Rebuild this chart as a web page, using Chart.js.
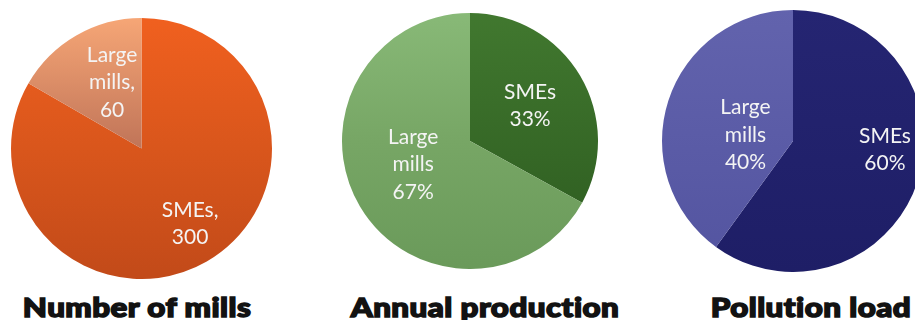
<!DOCTYPE html>
<html>
<head>
<meta charset="utf-8">
<script src="https://cdn.jsdelivr.net/npm/chart.js@4.4.1/dist/chart.umd.min.js"></script>
<style>
  html, body { margin: 0; padding: 0; background: #ffffff; }
  body { width: 915px; height: 320px; overflow: hidden; position: relative; }
  canvas { position: absolute; }
  #c1 { left: 11px; top: 18px; }
  #c2 { left: 342px; top: 13px; }
  #c3 { left: 662px; top: 10px; }
  .ttl {
    position: absolute; top: 291px; width: 320px; margin-left: -160px;
    text-align: center; font-family: "Lato", "Roboto", "Liberation Sans", sans-serif;
    font-weight: 900; font-size: 27px; line-height: 32px; color: #121212;
    -webkit-text-stroke: 1.5px #121212;
    letter-spacing: 0.4px;
    white-space: nowrap; transform: scaleX(1.16);
  }
</style>
</head>
<body>
<canvas id="c1" width="261" height="261"></canvas>
<canvas id="c2" width="256" height="256"></canvas>
<canvas id="c3" width="262" height="262"></canvas>
<div class="ttl" id="t1" style="left:137px">Number of mills</div>
<div class="ttl" id="t2" style="left:485px">Annual production</div>
<div class="ttl" id="t3" style="left:811px">Pollution load</div>
<script>
// Segments, in drawing order (clockwise from 12 o'clock)
const categories = ['SMEs', 'Large mills'];

// Number of mills
const millCounts = [300, 60];
// Share of annual production (%)
const productionShares = [33, 67];
// Share of pollution load (%)
const pollutionShares = [60, 40];

const chartTitles = ['Number of mills', 'Annual production', 'Pollution load'];

// Slice label text: first chart shows counts with a comma, the others percentages
function countLabel(cat, v) { return (cat + ',').split(' ').concat([String(v)]); }
function pctLabel(cat, v) { return cat.split(' ').concat([v + '%']); }

// Per-slice vertical gradient fill (top -> bottom of the pie)
function sliceGradients(stopsPerSlice) {
  return function (ctx) {
    const stops = stopsPerSlice[ctx.dataIndex] || stopsPerSlice[0];
    const chart = ctx.chart;
    const area = chart.chartArea;
    if (!area) return stops[0][1];
    const g = chart.ctx.createLinearGradient(0, area.top, 0, area.bottom);
    stops.forEach(s => g.addColorStop(s[0], s[1]));
    return g;
  };
}

// Places each slice label at an angle (deg clockwise from top) and radius fraction
const sliceLabels = {
  id: 'sliceLabels',
  afterDatasetsDraw(chart, args, opts) {
    const meta = chart.getDatasetMeta(0);
    const ctx = chart.ctx;
    const data = chart.data.datasets[0].data;
    ctx.save();
    ctx.fillStyle = opts.color;
    ctx.font = opts.font;
    ctx.textAlign = 'center';
    ctx.textBaseline = 'alphabetic';
    meta.data.forEach((arc, i) => {
      const pos = opts.positions[i];
      const a = (pos[0] - 90) * Math.PI / 180;
      const r = arc.outerRadius * pos[1];
      const cx = arc.x + Math.cos(a) * r;
      const cy = arc.y + Math.sin(a) * r;
      const lines = opts.format(chart.data.labels[i], data[i]);
      const lh = opts.lineHeight, cap = opts.capHeight;
      const y0 = cy + cap / 2 - (lines.length - 1) * lh / 2;
      lines.forEach((t, k) => ctx.fillText(t, cx, y0 + k * lh));
    });
    ctx.restore();
  }
};

function makePie(id, values, stops, format, positions) {
  return new Chart(document.getElementById(id), {
    type: 'pie',
    data: {
      labels: categories,
      datasets: [{
        data: values,
        backgroundColor: sliceGradients(stops),
        borderWidth: 0,
        hoverOffset: 0,
        offset: 0
      }]
    },
    options: {
      responsive: false,
      animation: false,
      rotation: 0,
      layout: { padding: 0 },
      events: [],
      plugins: {
        legend: { display: false },
        tooltip: { enabled: false },
        title: { display: false },
        sliceLabels: {
          color: '#f4f4f4',
          font: '21px "Lato", "Open Sans", sans-serif',
          lineHeight: 27.5,
          capHeight: 14,
          format: format,
          positions: positions
        }
      }
    },
    plugins: [sliceLabels]
  });
}

makePie('c1', millCounts, [
  [[0, '#f0601f'], [0.5, '#d9561c'], [1, '#c24a19']],
  [[0, '#f6a676'], [0.5, '#c07458'], [1, '#b06040']]
], countLabel, [[147, 0.684], [336, 0.554]]);

makePie('c2', productionShares, [
  [[0, '#41782f'], [1, '#2c5a1f']],
  [[0, '#88b977'], [0.5, '#77a665'], [1, '#6a9a5a']]
], pctLabel, [[59.4, 0.545], [247.6, 0.48]]);

makePie('c3', pollutionShares, [
  [[0, '#252572'], [1, '#1e1e66']],
  [[0, '#6263ad'], [1, '#5354a0']]
], pctLabel, [[95.3, 0.705], [277.6, 0.366]]);
</script>
</body>
</html>
